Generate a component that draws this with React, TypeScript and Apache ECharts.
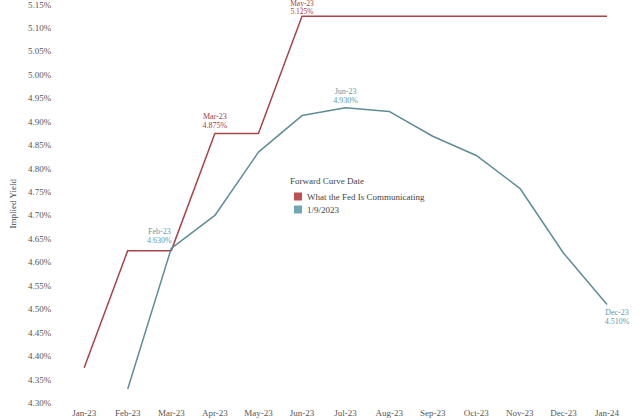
import React, { useEffect, useRef } from "react";
import * as echarts from "echarts";

const months = ["Jan-23", "Feb-23", "Mar-23", "Apr-23", "May-23", "Jun-23", "Jul-23", "Aug-23", "Sep-23", "Oct-23", "Nov-23", "Dec-23", "Jan-24"];
const fedValues = [4.375, 4.625, 4.625, 4.875, 4.875, 5.125, 5.125, 5.125, 5.125, 5.125, 5.125, 5.125, 5.125];
const curveValues: (number | null)[] = [null, 4.33, 4.63, 4.70, 4.835, 4.913, 4.93, 4.922, 4.869, 4.828, 4.758, 4.62, 4.51];
const fedLabels: Record<number, string> = { 3: "Mar-23\n4.875%", 5: "May-23\n5.125%" };
const curveLabels: Record<number, string> = { 2: "Feb-23\n4.630%", 6: "Jun-23\n4.930%", 12: "Dec-23\n4.510%" };
const seriesNames = ["What the Fed Is Communicating", "1/9/2023"];
const legendTitle = "Forward Curve Date";
const yAxisName = "Implied Yield";

const FONT = "'Liberation Serif', 'DejaVu Serif', serif";
const RED = "#a8434a";
const TEAL = "#5f8c97";

export default function App() {
  const ref = useRef<HTMLDivElement>(null);
  useEffect(() => {
    document.body.style.margin = "0";
    if (!ref.current) return;
    const chart = echarts.init(ref.current, undefined, { renderer: "svg" });
    const fedPos: Record<number, any> = {
      3: { position: "top", distance: 3 },
      5: { position: "top", distance: 1, fontSize: 7.5, lineHeight: 7.5 },
    };
    const labelPos: Record<number, any> = {
      2: { position: "top", offset: [-12, 0] },
      6: { position: "top" },
      12: { position: "bottom", offset: [10, 0] },
    };
    const fedData = fedValues.map((v, i) =>
      fedLabels[i]
        ? { value: v, label: { show: true, formatter: fedLabels[i], ...fedPos[i] } }
        : v
    );
    const curveData = curveValues.map((v, i) =>
      curveLabels[i]
        ? { value: v, label: { show: true, formatter: curveLabels[i], distance: 3, ...labelPos[i] } }
        : v
    );
    chart.setOption({
      animation: false,
      backgroundColor: "#ffffff",
      textStyle: { fontFamily: FONT },
      grid: { left: 80, right: 33, top: 4, bottom: 17, containLabel: false },
      legend: {
        orient: "vertical",
        left: 289,
        top: 187,
        itemWidth: 8,
        itemHeight: 8,
        itemGap: 4,
        icon: "rect",
        textStyle: { fontFamily: FONT, fontSize: 9, color: "#444" },
        data: [
          { name: seriesNames[0], itemStyle: { color: "#c0504d" } },
          { name: seriesNames[1], itemStyle: { color: "#6fa7b5" } },
        ],
      },
      graphic: [
        {
          type: "text",
          left: 290,
          top: 176,
          style: { text: legendTitle, font: `9px ${FONT}`, fill: "#444" },
        },
      ],
      xAxis: {
        type: "category",
        data: months,
        boundaryGap: false,
        axisLine: { show: false },
        axisTick: { show: false },
        axisLabel: { fontFamily: FONT, fontSize: 9, color: "#555", margin: 5, interval: 0 },
        splitLine: { show: false },
      },
      yAxis: {
        type: "value",
        min: 4.3,
        max: 5.15,
        interval: 0.05,
        name: yAxisName,
        nameLocation: "middle",
        nameGap: 62,
        nameTextStyle: { fontFamily: FONT, fontSize: 9, color: "#444" },
        axisLine: { show: false },
        axisTick: { show: false },
        splitLine: { show: false },
        axisLabel: {
          fontFamily: FONT,
          fontSize: 9,
          color: "#555",
          margin: 33,
          formatter: (v: number) => v.toFixed(2) + "%",
        },
      },
      series: [
        {
          name: seriesNames[0],
          type: "line",
          data: fedData,
          symbol: "circle",
          symbolSize: 0.01,
          showSymbol: true,
          lineStyle: { color: RED, width: 1.5 },
          itemStyle: { color: "#c0504d" },
          label: { fontFamily: FONT, fontSize: 8, color: "#a04048", lineHeight: 9 },
        },
        {
          name: seriesNames[1],
          type: "line",
          data: curveData,
          symbol: "circle",
          symbolSize: 0.01,
          showSymbol: true,
          lineStyle: { color: TEAL, width: 1.5 },
          itemStyle: { color: "#6fa7b5" },
          label: { fontFamily: FONT, fontSize: 8, color: "#5f9aa8", lineHeight: 9 },
        },
      ],
    });
    return () => chart.dispose();
  }, []);
  return <div ref={ref} style={{ width: 640, height: 420 }} />;
}
